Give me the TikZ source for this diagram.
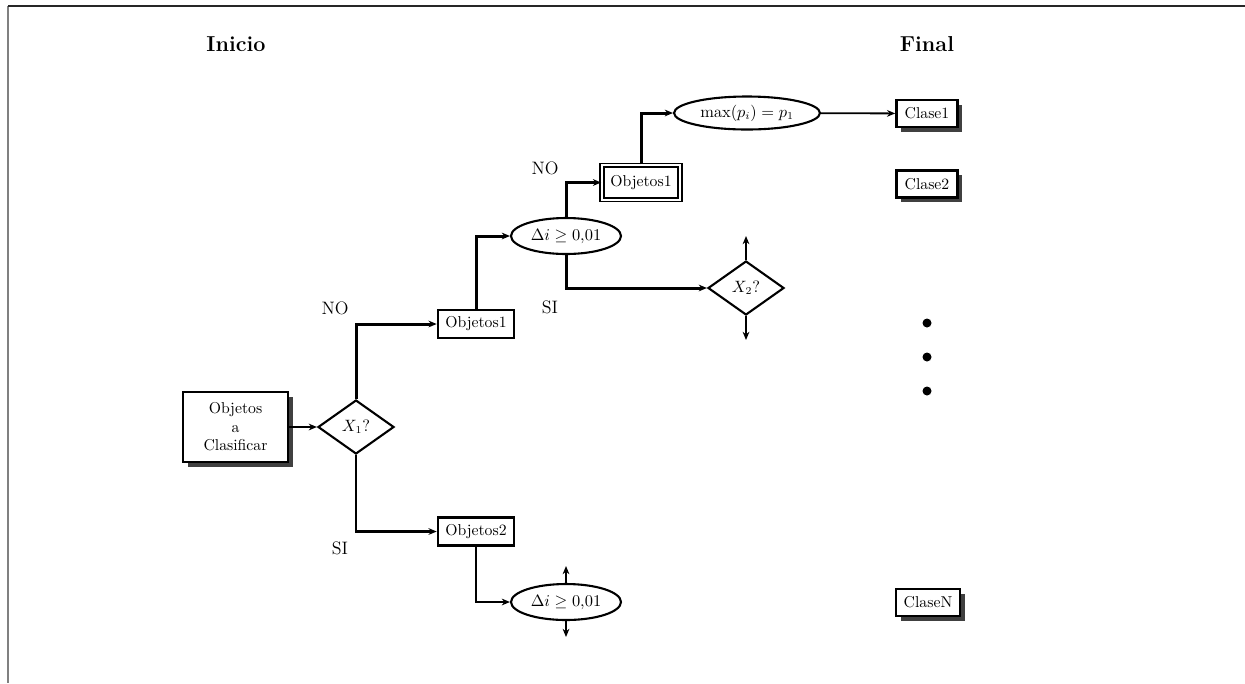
\documentclass[tikz,border=0pt]{standalone}
\usetikzlibrary{shapes.geometric,shadows,arrows.meta}
\tikzset{
  nf/.style={font=\fontsize{10.5}{12.3}\selectfont},
  box/.style={nf,draw,line width=1.7pt,fill=white,inner sep=1pt,minimum width=50.7pt,minimum height=18.7pt},
  shbox/.style={box,drop shadow={shadow xshift=3.3pt,shadow yshift=-3.3pt,fill=black!75,opacity=1}},
  dia/.style={nf,diamond,draw,line width=1.4pt,fill=white,inner sep=0pt,minimum width=50.7pt,minimum height=36pt},
  ell/.style={nf,ellipse,draw,line width=1.4pt,fill=white,inner sep=0pt,minimum width=73.3pt,minimum height=24pt},
  conn/.style={line width=2pt,-{Stealth[length=5.5pt,width=4.5pt]}},
  thinconn/.style={line width=1.2pt,-{Stealth[length=5.5pt,width=4.5pt]}},
  lab/.style={font=\large},
  dot/.style={circle,fill=black,inner sep=0pt,minimum size=6pt}
}
\begin{document}
\begin{tikzpicture}[x=0.6667pt,y=-0.6667pt]
\useasboundingbox (0,0) rectangle (1245,683);
\draw[black!50,line width=1.6pt] (8,6) -- (8,683);
\draw[black!85,line width=1.6pt] (8,6) -- (1245,6);

\node[font=\Large\bfseries] (ini) at (236,44) {Inicio};
\node[font=\Large\bfseries] (fin) at (927,44) {Final};

\node[shbox,align=center,minimum width=70pt,minimum height=46.7pt] (clas) at (235.5,427) {Objetos\\a\\Clasificar};
\node[dia] (x1) at (356,427) {$X_1?$};
\node[box] (o1) at (476,324) {Objetos1};
\node[box] (o2) at (476,531.5) {Objetos2};
\node[ell] (e1) at (566,236) {$\Delta i \geq 0{,}01$};
\node[ell] (e2) at (566,602) {$\Delta i \geq 0{,}01$};
\node[box,double,double distance=1.3pt,line width=1.1pt,minimum width=52pt,minimum height=23pt] (d1) at (641,182.5) {Objetos1};
\node[dia] (x2) at (746,288) {$X_2?$};
\node[ell,minimum width=97.3pt,minimum height=22pt] (emax) at (747,113) {$\max(p_i) = p_1$};

\node[shbox,minimum width=40.7pt,minimum height=18pt] (c1) at (927,113.5) {Clase1};
\node[shbox,minimum width=40.7pt,minimum height=18pt] (c2) at (927,184) {Clase2};
\node[shbox,minimum width=42.7pt,minimum height=18pt] (cn) at (928,602.5) {ClaseN};

\node[dot] (dt1) at (927,323) {};
\node[dot] (dt2) at (927,357) {};
\node[dot] (dt3) at (927,391) {};

\node[lab] (no1) at (335,308) {NO};
\node[lab] (si1) at (340,548) {SI};
\node[lab] (no2) at (545,168) {NO};
\node[lab] (si2) at (550,307) {SI};

\coordinate (x2up) at (746,236);
\coordinate (x2dn) at (746,340);
\coordinate (e2up) at (566,566);
\coordinate (e2dn) at (566,637);

\draw[thinconn,line width=1.5pt] (clas) -- (x1);
\draw[conn] (x1.north) |- (o1.west);
\draw[thinconn,line width=1.5pt] (x1.south) |- (o2.west);
\draw[conn] (o1.north) |- (e1.west);
\draw[conn] (e1.north) |- (d1.west);
\draw[conn] (e1.south) |- (x2.west);
\draw[conn] (d1.north) |- (emax.west);
\draw[thinconn] (emax) -- (c1);
\draw[thinconn,line width=1.5pt] (o2.south) |- (e2.west);
\draw[thinconn,line width=1.4pt] (x2.north) -- (x2up);
\draw[thinconn,line width=1.4pt] (x2.south) -- (x2dn);
\draw[thinconn] (e2.north) -- (e2up);
\draw[thinconn] (e2.south) -- (e2dn);
\end{tikzpicture}
\end{document}
